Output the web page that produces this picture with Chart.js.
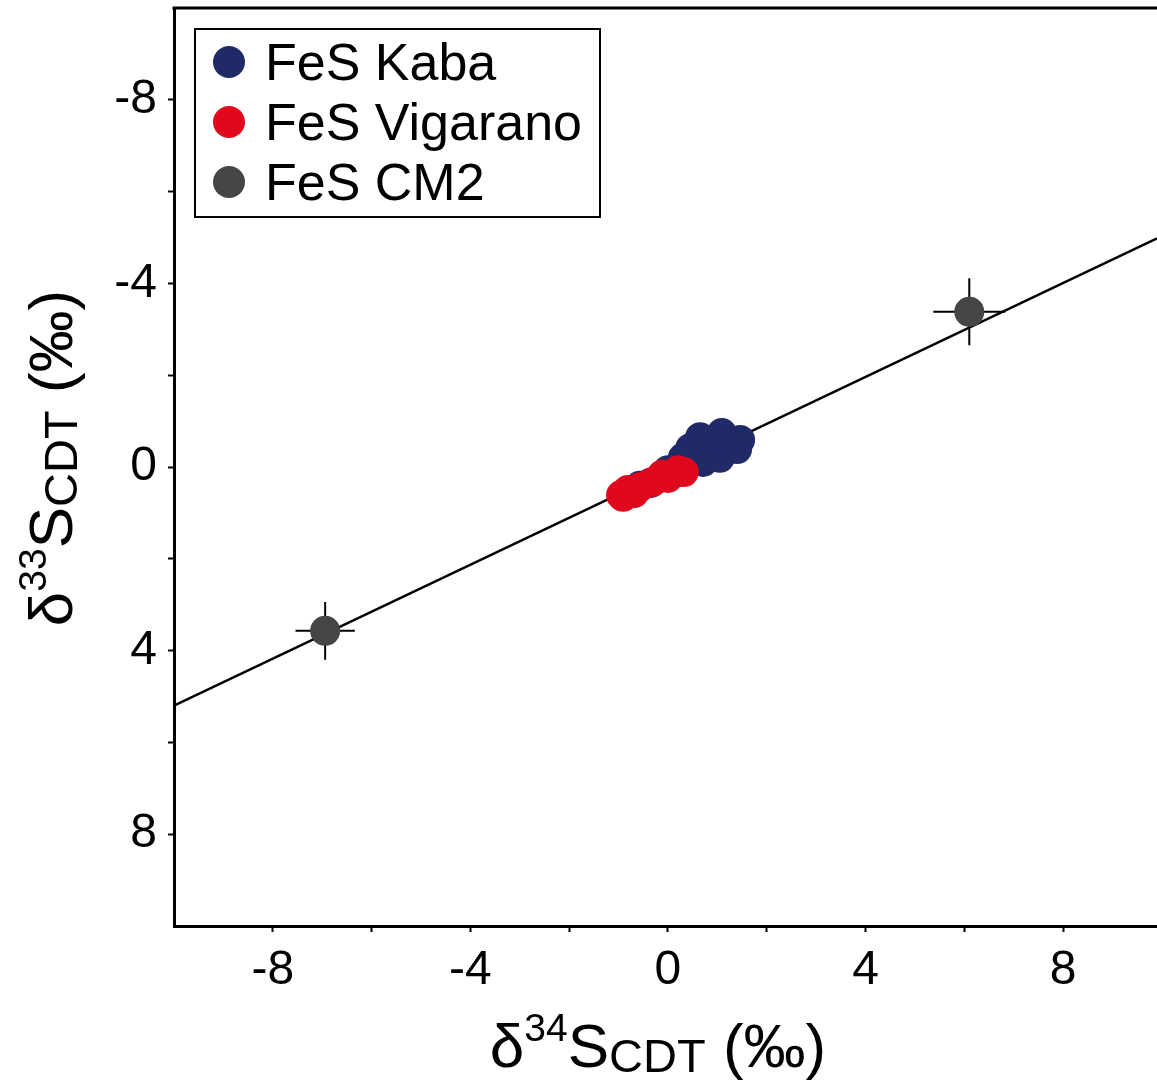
<!DOCTYPE html>
<html>
<head>
<meta charset="utf-8">
<script src="https://cdn.jsdelivr.net/npm/chart.js@4/dist/chart.umd.min.js"></script>
<style>
  body { margin: 0; background: #fff; }
  #wrap { width: 1157px; height: 1088px; }
</style>
</head>
<body>
<div id="wrap"><canvas id="chart" width="1157" height="1088"></canvas></div>
<script>
// data (delta34S on x, delta33S on y)
const kabaX = [0.65, 1.09, 1.46, 1.40, 0.95, 0.71, 0.40, 0.14, -0.16, -0.36, 0.45, 0.89, 1.21, 0.00, 0.55, 1.05, -0.57, 0.30];
const kabaY = [-0.65, -0.74, -0.59, -0.39, -0.33, -0.11, -0.04, 0.13, 0.24, 0.35, -0.41, -0.52, -0.44, 0.07, -0.26, -0.20, 0.41, -0.20];

const vigX = [-0.95, -0.81, -0.57, -0.32, -0.12, 0.20, 0.32, -0.91, -0.69, 0.00];
const vigY = [0.61, 0.50, 0.44, 0.33, 0.17, 0.07, 0.11, 0.65, 0.57, 0.24];

const cm2X = [6.1, -6.94];
const cm2Y = [-3.38, 3.57];
const cm2ErrX = [0.73, 0.6];
const cm2ErrY = [0.73, 0.63];

const fitX = [-10, 9.9];
const fitY = [5.2, -4.98];

const legendLabels = ["FeS Kaba", "FeS Vigarano", "FeS CM2"];
const legendColors = ["#1f2a66", "#e0081c", "#454545"];

const FONT = "'Liberation Sans', Arial, Helvetica, sans-serif";

function toPoints(xs, ys) {
  return xs.map((x, i) => ({ x: x, y: ys[i] }));
}

// draw text made of pieces with different sizes (super/subscripts)
function drawParts(ctx, parts, cx, baseY) {
  let total = 0;
  parts.forEach((p) => {
    ctx.font = p.size + "px " + FONT;
    p.w = ctx.measureText(p.t).width;
    total += p.w;
  });
  let x = cx - total / 2;
  ctx.textAlign = "left";
  ctx.textBaseline = "alphabetic";
  parts.forEach((p) => {
    ctx.font = p.size + "px " + FONT;
    ctx.fillText(p.t, x, baseY + p.dy);
    x += p.w;
  });
}

function titleParts(sup) {
  return [
    { t: "δ", size: 62, dy: 0 },
    { t: sup, size: 39, dy: -26 },
    { t: "S", size: 62, dy: 0 },
    { t: "CDT", size: 47, dy: 5 },
    { t: " (‰)", size: 62, dy: 0 }
  ];
}

const extras = {
  id: "extras",
  beforeDatasetsDraw(chart) {
    const ctx = chart.ctx;
    const xs = chart.scales.x, ys = chart.scales.y;
    ctx.save();
    ctx.strokeStyle = "#000";
    ctx.lineWidth = 2;
    cm2X.forEach((v, i) => {
      const px = xs.getPixelForValue(v), py = ys.getPixelForValue(cm2Y[i]);
      ctx.beginPath();
      ctx.moveTo(xs.getPixelForValue(v - cm2ErrX[i]), py);
      ctx.lineTo(xs.getPixelForValue(v + cm2ErrX[i]), py);
      ctx.moveTo(px, ys.getPixelForValue(cm2Y[i] - cm2ErrY[i]));
      ctx.lineTo(px, ys.getPixelForValue(cm2Y[i] + cm2ErrY[i]));
      ctx.stroke();
    });
    ctx.restore();
  },
  afterDraw(chart) {
    const ctx = chart.ctx;
    const area = chart.chartArea;
    ctx.save();

    // top frame line
    ctx.strokeStyle = "#000";
    ctx.lineWidth = 3;
    ctx.beginPath();
    ctx.moveTo(area.left - 1.5, area.top);
    ctx.lineTo(area.right, area.top);
    ctx.stroke();

    // legend box
    ctx.lineWidth = 2;
    ctx.fillStyle = "#fff";
    ctx.fillRect(195, 29, 405, 188);
    ctx.strokeRect(195, 29, 405, 188);
    legendLabels.forEach((lab, i) => {
      const y = 80 + i * 60;
      ctx.fillStyle = legendColors[i];
      ctx.beginPath();
      ctx.arc(229, y - 18, 16, 0, Math.PI * 2);
      ctx.fill();
      ctx.fillStyle = "#000";
      ctx.font = "52px " + FONT;
      ctx.textAlign = "left";
      ctx.textBaseline = "alphabetic";
      ctx.fillText(lab, 265, y);
    });

    // axis titles
    ctx.fillStyle = "#000";
    drawParts(ctx, titleParts("34"), 658, 1067);

    ctx.translate(72, 458);
    ctx.rotate(-Math.PI / 2);
    drawParts(ctx, titleParts("33"), 0, 0);
    ctx.restore();
  }
};

function tickLabel(v) {
  if (Math.abs(v) === 10) return null;
  return v % 4 === 0 ? String(v) : "";
}

new Chart(document.getElementById("chart"), {
  type: "scatter",
  data: {
    datasets: [
      {
        label: legendLabels[2],
        data: toPoints(cm2X, cm2Y),
        backgroundColor: legendColors[2],
        borderWidth: 0,
        pointRadius: 15,
        order: 0
      },
      {
        label: legendLabels[1],
        data: toPoints(vigX, vigY),
        backgroundColor: legendColors[1],
        borderWidth: 0,
        pointRadius: 15,
        order: 1
      },
      {
        label: legendLabels[0],
        data: toPoints(kabaX, kabaY),
        backgroundColor: legendColors[0],
        borderWidth: 0,
        pointRadius: 15,
        order: 2
      },
      {
        label: "fit",
        data: toPoints(fitX, fitY),
        showLine: true,
        borderColor: "#000",
        borderWidth: 2.4,
        pointRadius: 0,
        order: 3
      }
    ]
  },
  options: {
    responsive: false,
    animation: false,
    layout: { autoPadding: false, padding: { top: 8, left: 0, right: 0, bottom: 0 } },
    plugins: {
      legend: { display: false },
      tooltip: { enabled: false }
    },
    scales: {
      x: {
        type: "linear",
        min: -10,
        max: 9.9,
        afterFit: (s) => {
          s.height = 162;
          s.paddingLeft = 0;
          s.paddingRight = 0;
        },
        grid: { drawOnChartArea: false, drawTicks: true, tickLength: 6, tickWidth: 2, tickColor: "#000" },
        border: { color: "#000", width: 3 },
        ticks: {
          stepSize: 2,
          includeBounds: false,
          maxRotation: 0,
          autoSkip: false,
          padding: 10,
          color: "#000",
          font: { family: FONT, size: 48 },
          callback: tickLabel
        }
      },
      y: {
        type: "linear",
        min: -10,
        max: 10,
        reverse: true,
        afterFit: (s) => {
          s.width = 174;
          s.paddingTop = 0;
          s.paddingBottom = 0;
        },
        grid: { drawOnChartArea: false, drawTicks: true, tickLength: 6, tickWidth: 2, tickColor: "#000" },
        border: { color: "#000", width: 3 },
        ticks: {
          stepSize: 2,
          autoSkip: false,
          padding: 11,
          color: "#000",
          font: { family: FONT, size: 48 },
          callback: tickLabel
        }
      }
    }
  },
  plugins: [extras]
});
</script>
</body>
</html>
